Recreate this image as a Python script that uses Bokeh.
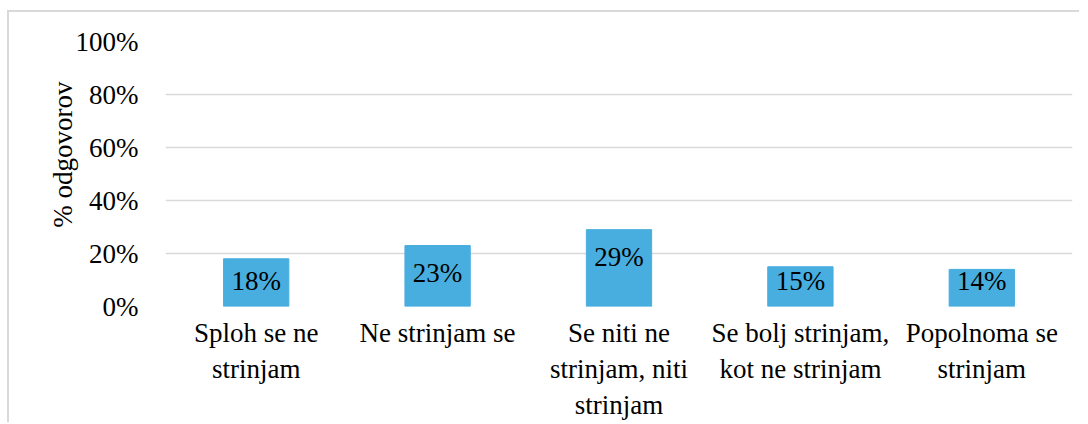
from bokeh.plotting import figure
from bokeh.layouts import column
from bokeh.models import FactorRange, Range1d, FixedTicker, PrintfTickFormatter, ColumnDataSource, Title
from bokeh.core.properties import value
from bokeh.embed import file_html
from bokeh.resources import INLINE

# ---- data ----
categories = ["Sploh se ne\nstrinjam", "Ne strinjam se", "Se niti ne\nstrinjam, niti\nstrinjam",
              "Se bolj strinjam,\nkot ne strinjam", "Popolnoma se\nstrinjam"]
percent = [18, 23, 29, 15, 14]
bar_labels = ["18%", "23%", "29%", "15%", "14%"]
y_ticks = [0, 20, 40, 60, 80, 100]
y_title = "% odgovorov"

FONT = "Liberation Serif"
FSIZE = "27px"
BAR = "#48AEDF"
GRID = "#D9D9D9"

# label position: inside end of bar, but not lower than ~9.6%
label_y = [max(v - 10.5, min(v - 4.5, 9.6)) for v in percent]

src = ColumnDataSource(dict(cat=categories, val=percent, txt=bar_labels, ly=label_y))

p = figure(x_range=FactorRange(factors=categories, range_padding=0), y_range=Range1d(0, 100),
           width=1070, height=410, output_backend="svg", toolbar_location=None,
           min_border_left=156, min_border_right=7, min_border_top=29, min_border_bottom=116)

p.vbar(x="cat", top="val", width=0.36, source=src, fill_color=BAR, line_color=BAR)
p.text(x="cat", y="ly", text="txt", source=src, text_align="center", text_baseline="middle",
       text_font=value(FONT), text_font_size=FSIZE, text_color="black")

p.outline_line_color = None
p.xgrid.grid_line_color = None
p.ygrid.grid_line_color = GRID
p.ygrid.grid_line_width = 1.5

p.yaxis.ticker = FixedTicker(ticks=y_ticks)
p.yaxis.formatter = PrintfTickFormatter(format="%d%%")
for ax in (p.xaxis[0], p.yaxis[0]):
    ax.axis_line_color = None
    ax.major_tick_line_color = None
    ax.minor_tick_line_color = None
    ax.major_label_text_font = FONT
    ax.major_label_text_font_size = FSIZE
    ax.major_label_text_color = "black"
p.yaxis.major_label_standoff = 21
p.xaxis.major_label_standoff = 5

p.add_layout(Title(text=y_title, align="right", offset=40, text_font=FONT, text_font_size=FSIZE,
                   text_font_style="normal", text_color="black", standoff=-10), "left")

layout = column(p, styles={"border-top": "2px solid #D9D9D9", "border-left": "2px solid #D9D9D9",
                           "margin-top": "10px", "margin-left": "7px"})

open("out.html", "w").write(file_html(layout, INLINE))
